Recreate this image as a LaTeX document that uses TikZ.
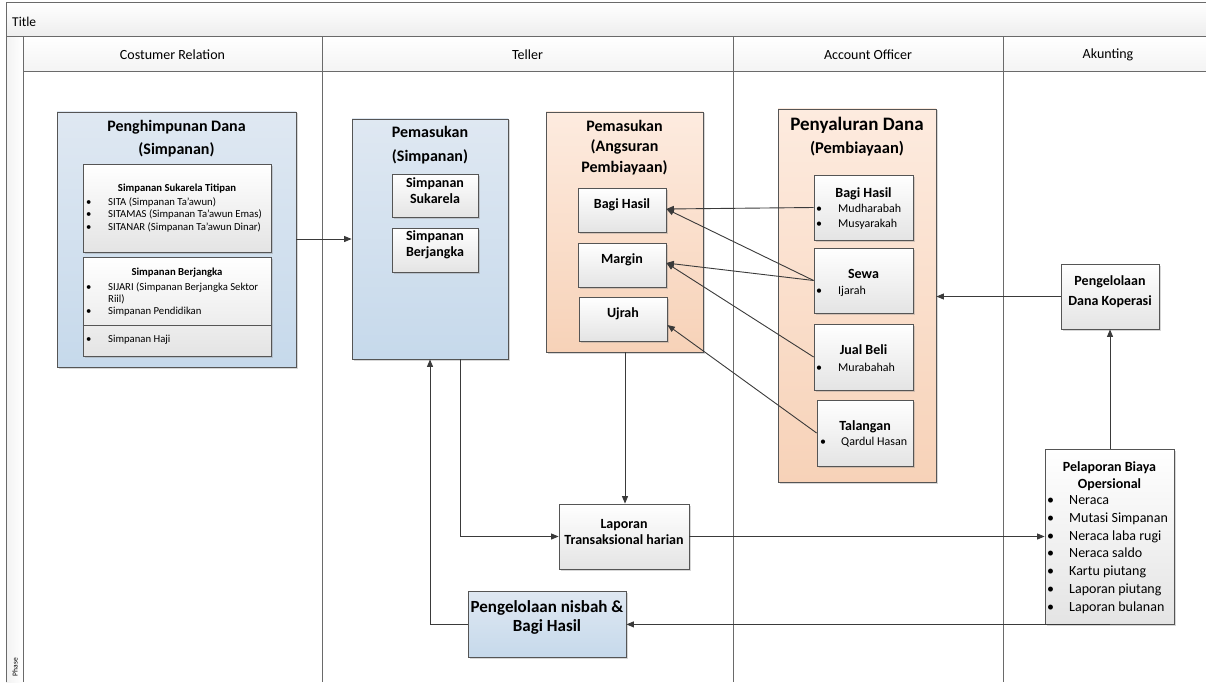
\documentclass[tikz,border=0pt]{standalone}
\usepackage{fontspec}
\setmainfont{Carlito}
\usetikzlibrary{arrows.meta,fit,shadows}

\definecolor{frameline}{HTML}{6A6A6A}
\definecolor{boxline}{HTML}{555555}
\definecolor{conn}{HTML}{3A3A3A}
\definecolor{blueTop}{HTML}{DFE8F2}
\definecolor{blueBot}{HTML}{C6D9EB}
\definecolor{peachTop}{HTML}{FDEBDF}
\definecolor{peachBot}{HTML}{F7D2B8}
\definecolor{greyBot}{HTML}{E4E4E4}

\newcommand\fs[2]{\fontsize{#1}{#2}\selectfont}

\tikzset{
  shadowed/.style={drop shadow={shadow xshift=1.5pt,shadow yshift=-1.5pt,opacity=.35,fill=black!45}},
  bluebox/.style={draw=boxline,line width=0.8pt,top color=blueTop,bottom color=blueBot,inner sep=0pt,shadowed},
  peachbox/.style={draw=boxline,line width=0.8pt,top color=peachTop,bottom color=peachBot,inner sep=0pt,shadowed},
  greybox/.style={draw=boxline,line width=0.8pt,top color=white,bottom color=greyBot,inner sep=0pt,shadowed,align=center},
  boxtitle/.style={font=\bfseries,align=center,inner sep=0pt},
  bullets/.style={align=left,inner sep=0pt,anchor=west},
  conn/.style={draw=conn,line width=0.9pt,-{Triangle[length=7.5pt,width=6pt]}},
  lane/.style={draw=frameline,line width=1pt},
  hdr/.style={inner sep=0pt,font=\fs{14}{16}}
}

\begin{document}
\begin{tikzpicture}[x=1pt,y=-1pt]
\useasboundingbox (0,0) rectangle (1206,682);
\clip (0,0) rectangle (1206,682);

% ---- pool frame: title bar, phase column, lane headers and lane lines
\shade[top color=white,bottom color=gray!14] (6,3) rectangle (1214,37);
\shade[left color=gray!10,right color=white] (6,37) rectangle (23,682);
\shade[top color=white,bottom color=gray!9] (23,37) rectangle (1214,72);
\draw[lane] (6,682) -- (6,3) -- (1214,3);
\draw[lane] (6,37) -- (1214,37);
\draw[lane] (23,72) -- (1214,72);
\draw[lane] (23,37) -- (23,682);
\foreach \lx in {322,733,1003} \draw[lane] (\lx,37) -- (\lx,682);
\node[anchor=west,inner sep=0pt,font=\fs{13.5}{16}] (title) at (12,22) {Title};
\node[hdr] (h1) at (172.5,55) {Costumer Relation};
\node[hdr] (h2) at (527.5,55) {Teller};
\node[hdr] (h3) at (868,55) {Account Officer};
\node[hdr] (h4) at (1108,55) {Akunting};
\node[rotate=90,inner sep=0pt,font=\fs{7.5}{9}] (phase) at (15,667) {Phase};

% ---- Costumer Relation: Penghimpunan Dana
\node[bluebox,fit={(57,112) (296,367)}] (pd) {};
\node[boxtitle,font=\bfseries\fs{16}{23}] (pdT) at (176.5,138.5) {Penghimpunan Dana\\(Simpanan)};
\node[greybox,fit={(83,164) (271,252)}] (sst) {};
\node[boxtitle,font=\bfseries\fs{10.7}{12}] (sstT) at (177,189) {Simpanan Sukarela Titipan};
\node[bullets,font=\fs{10.7}{12.5}] (sstL) at (86,214.5) {%
  \makebox[22pt][l]{\textbullet}SITA (Simpanan Ta’awun)\\
  \makebox[22pt][l]{\textbullet}SITAMAS (Simpanan Ta’awun Emas)\\
  \makebox[22pt][l]{\textbullet}SITANAR (Simpanan Ta’awun Dinar)};
\node[greybox,fit={(83,257) (271,356)}] (sbj) {};
\draw[draw=boxline,line width=0.8pt] (sbj.west |- 0,325) -- (sbj.east |- 0,325);
\node[boxtitle,font=\bfseries\fs{10.7}{12}] (sbjT) at (177,273) {Simpanan Berjangka};
\node[bullets,font=\fs{10.7}{12.2}] (sbjL) at (86,299.5) {%
  \makebox[22pt][l]{\textbullet}SIJARI (Simpanan Berjangka Sektor\\
  \hspace*{22pt}Riil)\\
  \makebox[22pt][l]{\textbullet}Simpanan Pendidikan};
\node[bullets,font=\fs{10.7}{12.5}] (hajiL) at (86,340) {\makebox[22pt][l]{\textbullet}Simpanan Haji};

% ---- Teller: Pemasukan (Simpanan)
\node[bluebox,fit={(352,119) (508,359)}] (ps) {};
\node[boxtitle,font=\bfseries\fs{16}{24}] (psT) at (430,145) {Pemasukan\\(Simpanan)};
\node[greybox,fit={(392,174) (478,217)},font=\bfseries\fs{14}{16}] (ss) {Simpanan\\Sukarela};
\node[greybox,fit={(392,228) (478,272)},font=\bfseries\fs{14}{16}] (sb) {Simpanan\\Berjangka};

% ---- Teller: Pemasukan (Angsuran Pembiayaan)
\node[peachbox,fit={(546,112) (703,352)}] (pa) {};
\node[boxtitle,font=\bfseries\fs{16}{20.5}] (paT) at (624.5,147.5) {Pemasukan\\(Angsuran\\Pembiayaan)};
\node[greybox,fit={(578,188) (666,232)},font=\bfseries\fs{14}{16}] (bh) {Bagi Hasil};
\node[greybox,fit={(578,243) (666,287)},font=\bfseries\fs{14}{16}] (mg) {Margin};
\node[greybox,fit={(579,297) (667,341)},font=\bfseries\fs{14}{16}] (uj) {Ujrah};

% ---- Account Officer: Penyaluran Dana (Pembiayaan)
\node[peachbox,fit={(778,109) (936,482)}] (pyd) {};
\node[boxtitle,font=\bfseries\fs{19}{20}] (pydT1) at (857,125) {Penyaluran Dana};
\node[boxtitle,font=\bfseries\fs{16.5}{18}] (pydT2) at (857,149) {(Pembiayaan)};

\node[greybox,fit={(814,175) (913,240)}] (aobh) {};
\node[boxtitle,font=\bfseries\fs{14}{16}] (aobhT) at (863.5,194) {Bagi Hasil};
\node[bullets,font=\fs{12}{15}] (aobhL) at (816,216.5) {%
  \makebox[22pt][l]{\textbullet}Mudharabah\\
  \makebox[22pt][l]{\textbullet}Musyarakah};

\node[greybox,fit={(814,248) (913,313)}] (sewa) {};
\node[boxtitle,font=\bfseries\fs{14}{16}] (sewaT) at (863.5,274) {Sewa};
\node[bullets,font=\fs{12}{15}] (sewaL) at (816,291) {\makebox[22pt][l]{\textbullet}Ijarah};

\node[greybox,fit={(814,324) (913,390)}] (jb) {};
\node[boxtitle,font=\bfseries\fs{14}{16}] (jbT) at (863.5,350) {Jual Beli};
\node[bullets,font=\fs{12}{15}] (jbL) at (816,367) {\makebox[22pt][l]{\textbullet}Murabahah};

\node[greybox,fit={(817,400) (913,466)}] (tal) {};
\node[boxtitle,font=\bfseries\fs{14}{16}] (talT) at (865,427) {Talangan};
\node[bullets,font=\fs{12}{15}] (talL) at (820,442) {\makebox[21pt][l]{\textbullet}Qardul Hasan};

% ---- Akunting
\node[greybox,fit={(1061,264) (1159,329)},font=\bfseries\fs{14}{20}] (pdk) {Pengelolaan\\Dana Koperasi};
\node[greybox,fit={(1045,449) (1174,624)}] (pel) {};
\node[boxtitle,font=\bfseries\fs{14}{17}] (pelT) at (1109.5,476.5) {Pelaporan Biaya\\Opersional};
\node[bullets,font=\fs{14}{17.8}] (pelL) at (1047,554.5) {%
  \makebox[22pt][l]{\textbullet}Neraca\\
  \makebox[22pt][l]{\textbullet}Mutasi Simpanan\\
  \makebox[22pt][l]{\textbullet}Neraca laba rugi\\
  \makebox[22pt][l]{\textbullet}Neraca saldo\\
  \makebox[22pt][l]{\textbullet}Kartu piutang\\
  \makebox[22pt][l]{\textbullet}Laporan piutang\\
  \makebox[22pt][l]{\textbullet}Laporan bulanan};

% ---- reports and profit sharing
\node[greybox,fit={(559,504) (689,569)},font=\bfseries\fs{14}{16}] (lap) {Laporan\\Transaksional harian};
\node[bluebox,fit={(468,591) (626,657)}] (nis) {};
\node[boxtitle,font=\bfseries\fs{17}{19}] (nisT) at (547,617.5) {Pengelolaan nisbah \&\\Bagi Hasil};

% ---- connectors
\path[conn] (pd.east |- 0,239) -- (ps.west |- 0,239);
\path[conn] (aobh.west) -- ([yshift=1pt]bh.east);
\path[conn] (sewa.west) -- ([yshift=1pt]bh.east);
\path[conn] (sewa.west) -- ([yshift=2pt]mg.east);
\path[conn] (jb.west) -- ([yshift=2pt]mg.east);
\path[conn] (tal.west) -- ([yshift=-6pt]uj.east);
\path[conn] (pdk.west) -- (pdk.west -| pyd.east);
\path[conn] (pel.north -| pdk.south) -- (pdk.south);
\path[conn] (pa.south -| 625,0) -- (lap.north -| 625,0);
\path[conn] (ps.south -| 460,0) |- (lap.west);
\path[conn] (lap.east) -- (lap.east -| pel.west);
\path[conn] (pel.south -| pdk.south) -- (pel.south -| nis.east);
\path[conn] (nis.west) -| (ps.south -| 430,0);
\end{tikzpicture}
\end{document}
